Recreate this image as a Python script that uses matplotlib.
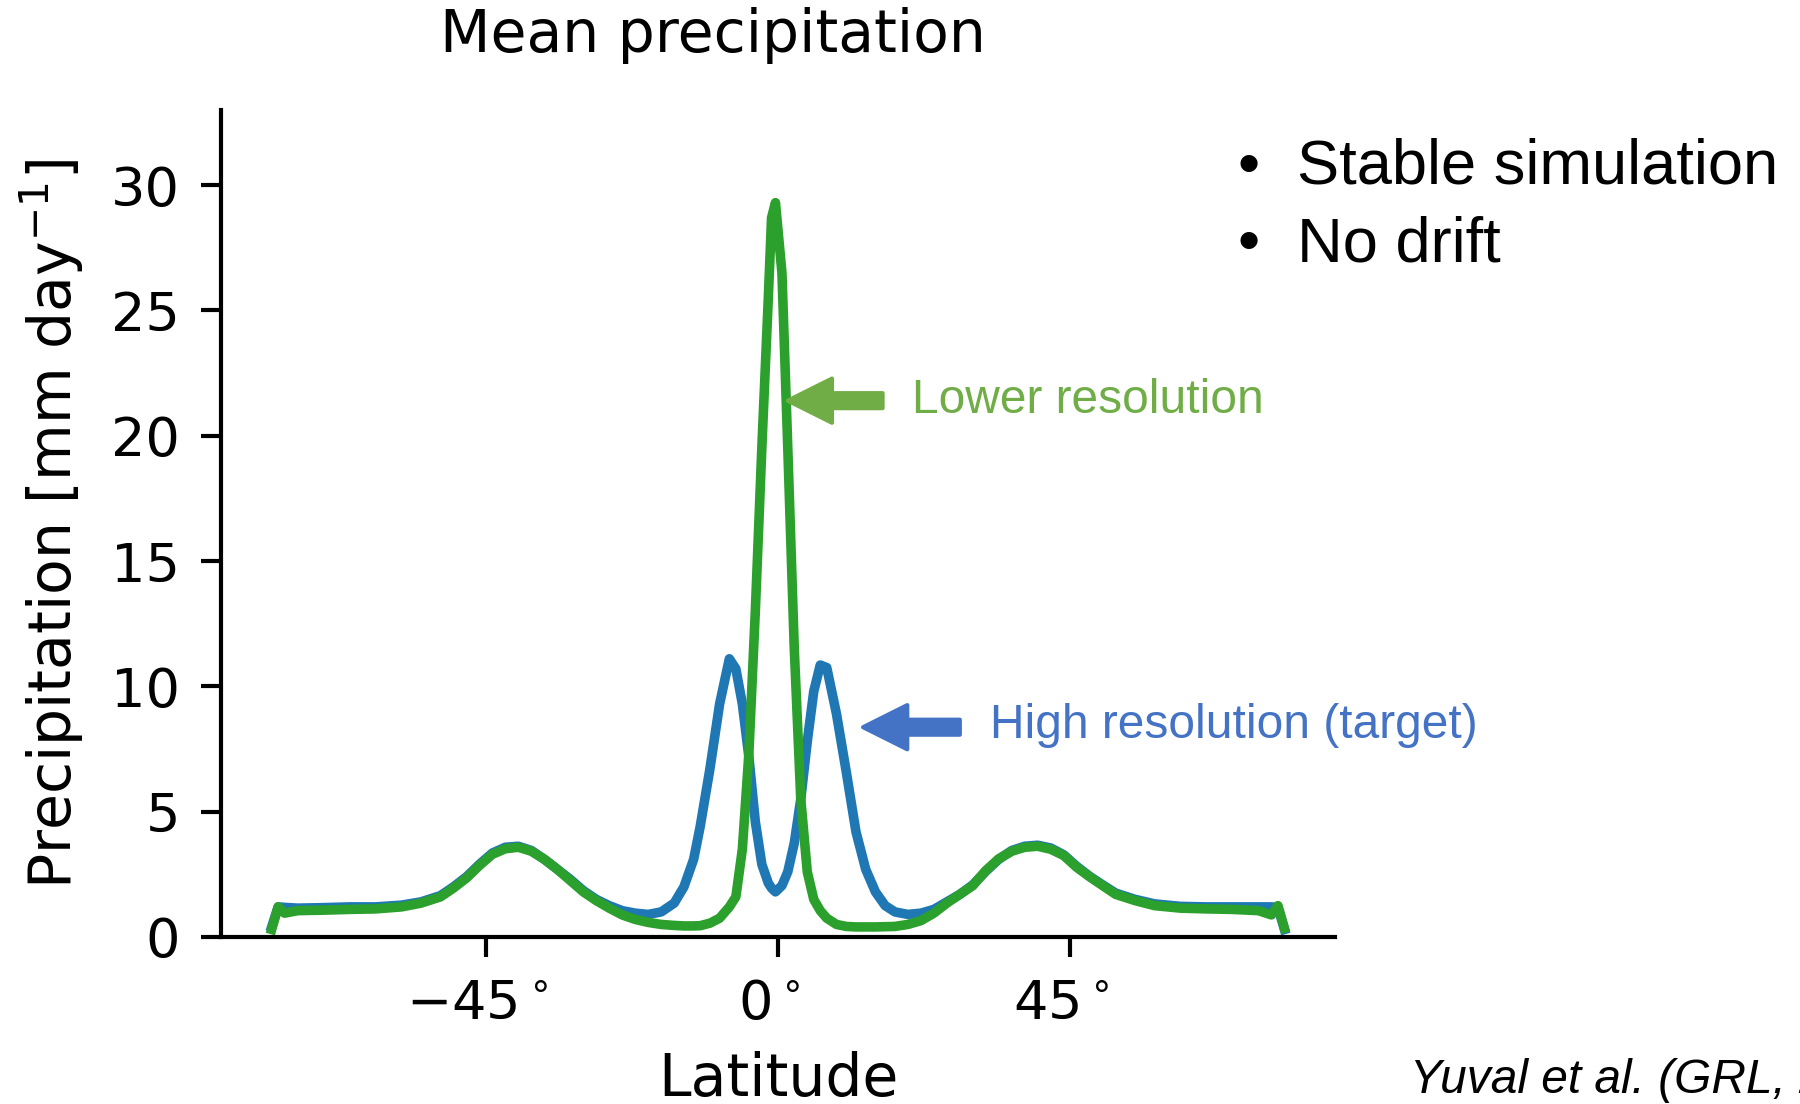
import matplotlib.pyplot as plt
from matplotlib.transforms import ScaledTranslation

# latitude grid (deg) shared by both runs
lat = [-78, -77, -76, -74, -70, -66, -62, -58, -55, -52, -50, -48, -46, -44, -42, -40,
       -38, -36, -34, -32, -30, -28, -26, -24, -22, -20, -18, -16, -14.5, -13, -12, -10.5,
       -9, -7.5, -6.5, -5.5, -4.5, -3.5, -2.5, -1.5, -1, -0.4, 0.6, 1.5, 2.5, 3.5,
       4.5, 5.5, 6.5, 7.5, 9, 10.5, 12, 13.5, 15, 16.5, 18, 20, 22, 24, 26, 28,
       30, 32, 34, 36, 38, 40, 42, 44, 46, 48, 50, 52, 55, 58, 62, 66,
       70, 74, 76, 77, 78]

# high resolution (target)
precip_hi = [0.4, 1.2, 1.18, 1.15, 1.17, 1.2, 1.2, 1.27, 1.4, 1.65, 2.0, 2.4, 2.9, 3.35, 3.58, 3.62,
             3.45, 3.1, 2.7, 2.3, 1.85, 1.5, 1.25, 1.05, 0.95, 0.9, 1.0, 1.35, 2.0, 3.1, 4.4, 6.7,
             9.3, 11.1, 10.7, 9.3, 7.2, 4.6, 2.9, 2.15, 1.95, 1.8, 2.05, 2.6, 3.75, 5.5,
             7.8, 9.8, 10.85, 10.75, 8.9, 6.6, 4.2, 2.7, 1.8, 1.25, 1.0, 0.9, 0.95, 1.1, 1.4, 1.7,
             2.08, 2.62, 3.1, 3.45, 3.62, 3.66, 3.55, 3.28, 2.82, 2.42, 2.08, 1.75, 1.5, 1.32, 1.22, 1.2,
             1.2, 1.2, 1.2, 1.18, 0.3]

# lower resolution
precip_lo = [0.3, 1.2, 0.95, 1.05, 1.07, 1.1, 1.12, 1.2, 1.35, 1.6, 1.95, 2.35, 2.85, 3.3, 3.52, 3.58,
             3.42, 3.1, 2.7, 2.25, 1.8, 1.45, 1.15, 0.88, 0.7, 0.58, 0.5, 0.46, 0.44, 0.44, 0.45, 0.55,
             0.75, 1.2, 1.6, 3.5, 7.3, 13.0, 19.5, 25.5, 28.7, 29.3, 26.5, 19.5, 11.5, 5.5,
             2.6, 1.5, 1.05, 0.75, 0.5, 0.42, 0.4, 0.4, 0.4, 0.41, 0.42, 0.5, 0.65, 0.95, 1.35, 1.7,
             2.05, 2.65, 3.12, 3.42, 3.58, 3.62, 3.5, 3.25, 2.78, 2.4, 2.05, 1.7, 1.45, 1.25, 1.15, 1.12,
             1.1, 1.05, 0.88, 1.25, 0.35]

xticks = [-45, 0, 45]
xticklabels = [r'$-45^\circ$', r'$0^\circ$', r'$45^\circ$']
yticks = [0, 5, 10, 15, 20, 25, 30]

plt.rcParams['axes.linewidth'] = 1.0

fig = plt.figure(figsize=(6, 3.68), dpi=300)
ax = fig.add_axes([0.1228, 0.1513, 0.6189, 0.7491])

ax.plot(lat, precip_hi, color='#1f77b4', lw=2.3)
ax.plot(lat, precip_lo, color='#2ca02c', lw=2.3)

ax.set_ylim(0, 33)
ax.set_xticks(xticks)
ax.set_xticklabels(xticklabels)
ax.set_yticks(yticks)
ax.tick_params(axis='both', which='major', labelsize=13, length=4.8, width=1.0, pad=5)
# degree labels sit a little left of their ticks in the original
for lab in ax.get_xticklabels():
    lab.set_transform(lab.get_transform() + ScaledTranslation(-2.2 / 72, 0, fig.dpi_scale_trans))
ax.spines['top'].set_visible(False)
ax.spines['right'].set_visible(False)
ax.set_xlabel('Latitude', fontsize=14, labelpad=5)
ax.set_ylabel(r'Precipitation [mm day$^{-1}$]', fontsize=14, labelpad=6)

# arrows + labels
arrow = 'simple,head_length=1.06,head_width=1.06,tail_width=0.36'
ax.annotate('', xy=(1.5, 21.4), xytext=(16.1, 21.4),
            arrowprops=dict(arrowstyle=arrow, color='#70AD47', shrinkA=0, shrinkB=0, mutation_scale=10))
ax.text(20.7, 20.9, 'Lower resolution', color='#70AD47', fontsize=11.5,
        family='Liberation Sans', va='baseline', ha='left')
ax.annotate('', xy=(13.1, 8.37), xytext=(28.0, 8.37),
            arrowprops=dict(arrowstyle=arrow, color='#4472C4', shrinkA=0, shrinkB=0, mutation_scale=10))
ax.text(32.6, 7.95, 'High resolution (target)', color='#4472C4', fontsize=11.5,
        family='Liberation Sans', va='baseline', ha='left')

fig.text(440 / 1800, 1 - 52 / 1104, 'Mean precipitation', fontsize=14, va='baseline', ha='left')

# bullet points
for i, s in enumerate(['Stable simulation', 'No drift']):
    yb = 1 - (184 + 77 * i) / 1104
    fig.text(1237 / 1800, yb, '\u2022', fontsize=15.2, family='Liberation Sans', va='baseline')
    fig.text(1297 / 1800, yb, s, fontsize=15.2, family='Liberation Sans', va='baseline')

# citation runs off the right edge, as in the slide
fig.text(1410 / 1800, 1 - 1093 / 1104, 'Yuval et al. (GRL, 2021)', fontsize=11.5,
         family='Liberation Sans', style='italic', va='baseline')

fig.savefig('out.png', dpi=300)
